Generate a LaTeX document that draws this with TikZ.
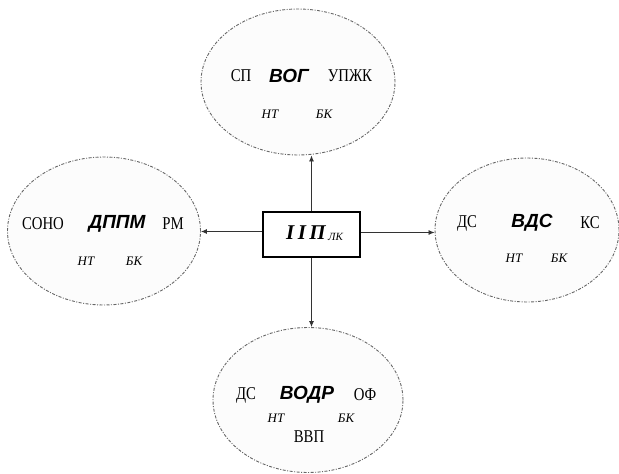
\documentclass[tikz,border=0pt]{standalone}
\usepackage{fontspec}
\setmainfont{Liberation Serif}
\newfontfamily\boldsans{Liberation Sans}
\newfontfamily\plainf[FakeStretch=0.82]{Liberation Serif}
\usetikzlibrary{shapes.geometric,arrows.meta}
\tikzset{
  oval/.style={ellipse, draw=black!60, fill=black!1, line width=0.9pt,
    dash pattern=on 3pt off 1.5pt on 1pt off 1.5pt, inner sep=0pt},
  plain/.style={font=\plainf\fontsize{18}{18}\selectfont, inner sep=0pt},
  keyw/.style={font=\boldsans\bfseries\itshape\fontsize{19}{19}\selectfont, inner sep=0pt},
  small/.style={font=\itshape\fontsize{13}{13}\selectfont, inner sep=0pt},
  sub/.style={font=\itshape\fontsize{11}{11}\selectfont, inner sep=0pt},
  arr/.style={-{Latex[length=6pt,width=5pt]}, line width=0.8pt, black!80},
  boxst/.style={draw, line width=2.2pt, inner sep=0pt, minimum width=97pt, minimum height=45pt}
}
\begin{document}
\begin{tikzpicture}[x=1pt,y=-1pt]
\useasboundingbox (0,0) rectangle (619,474);
% ellipses
\node[oval, minimum width=194pt, minimum height=146pt] (top) at (298,82) {};
\node[oval, minimum width=193pt, minimum height=148pt] (left) at (104,231) {};
\node[oval, minimum width=184pt, minimum height=144pt] (right) at (527,230) {};
\node[oval, minimum width=190pt, minimum height=145pt] (bottom) at (308,400) {};
% center box
\node[boxst] (c) at (311.5,234.5) {};
\node[font=\bfseries\itshape\fontsize{21}{21}\selectfont, inner sep=0pt] (ct) at (306,233) {I\,I\,П};
\node[sub, anchor=west] (cs) at ([xshift=2pt,yshift=-4pt]ct.east) {ЛК};
% arrows
\draw[arr] (c.north) -- (c.north |- top.south);
\draw[arr] (c.south) -- (c.south |- bottom.north);
\draw[arr] ([yshift=3pt]c.west) -- ([yshift=3pt]c.west -| left.east);
\draw[arr] ([yshift=2pt]c.east) -- ([yshift=2pt]c.east -| right.west);
% top texts
\node[plain] (t1) at (241,76) {СП};
\node[keyw] (t2) at (289,76) {ВОГ};
\node[plain] (t3) at (350,76) {УПЖК};
\node[small] (t4) at (270,114) {НТ};
\node[small] (t5) at (324,114) {БК};
% left texts
\node[plain] (l1) at (43,224) {СОНО};
\node[keyw] (l2) at (117,224) {ДППМ};
\node[plain] (l3) at (173,224) {РМ};
\node[small] (l4) at (86,261) {НТ};
\node[small] (l5) at (134,261) {БК};
% right texts
\node[plain] (r1) at (467,223) {ДС};
\node[keyw] (r2) at (532,223) {ВДС};
\node[plain] (r3) at (590,223) {КС};
\node[small] (r4) at (514,258) {НТ};
\node[small] (r5) at (559,258) {БК};
% bottom texts
\node[plain] (b1) at (246,395) {ДС};
\node[keyw] (b2) at (307,395) {ВОДР};
\node[plain] (b3) at (365,395) {ОФ};
\node[small] (b4) at (276,418) {НТ};
\node[small] (b5) at (346,418) {БК};
\node[plain] (b6) at (309,437) {ВВП};
\end{tikzpicture}
\end{document}
